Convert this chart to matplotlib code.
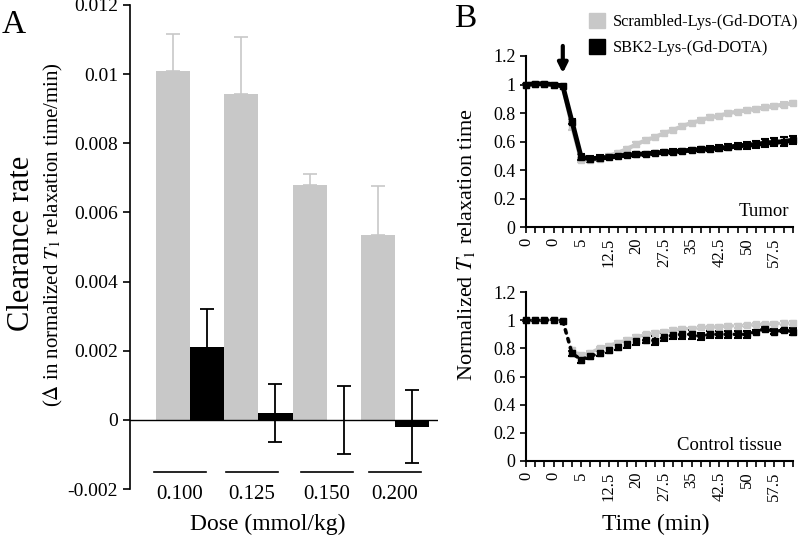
import numpy as np
import matplotlib
matplotlib.use("Agg")
import matplotlib.pyplot as plt
from matplotlib.patches import Patch

plt.rcParams['font.family'] = ['Liberation Serif', 'DejaVu Serif']
plt.rcParams['mathtext.fontset'] = 'stix'

GRAY = '#c8c8c8'

# Panel A: clearance rate per dose
doses = ['0.100', '0.125', '0.150', '0.200']
scr_rate = [0.0101, 0.00942, 0.0068, 0.00535]
scr_err = [0.00105, 0.00165, 0.0003, 0.0014]
sbk_rate = [0.0021, 0.0002, 0.0, -0.0002]
sbk_err = [0.0011, 0.00085, 0.00099, 0.00105]
dose_label_shift = [-0.15, -0.1, 0.0, 0.0]

# Panel B: normalized T1 relaxation time (categorical time axis)
time_labels = ['0', '0', '5', '12.5', '20', '27.5', '35', '42.5', '50', '57.5']

tumor_scr = [1.0, 1.005, 1.005, 1.0, 0.99, 0.71, 0.47, 0.47, 0.48, 0.50,
             0.52, 0.55, 0.58, 0.61, 0.63, 0.66, 0.68, 0.71, 0.73, 0.75,
             0.77, 0.78, 0.80, 0.81, 0.82, 0.83, 0.84, 0.85, 0.86, 0.87]
tumor_scr_err = [0.005] * 5 + [0.03] + [0.015] * 24
tumor_sbk = [1.0, 1.005, 1.005, 1.0, 0.99, 0.74, 0.49, 0.48, 0.485, 0.49,
             0.50, 0.505, 0.51, 0.515, 0.52, 0.525, 0.53, 0.535, 0.54, 0.545,
             0.55, 0.555, 0.56, 0.57, 0.575, 0.58, 0.59, 0.595, 0.60, 0.61]
tumor_sbk_err = [0.005] * 5 + [0.02, 0.02, 0.02, 0.02, 0.015, 0.015, 0.015,
                               0.015, 0.015, 0.015, 0.015, 0.015, 0.015, 0.015,
                               0.018, 0.018, 0.02, 0.02, 0.022, 0.025, 0.025,
                               0.028, 0.028, 0.03, 0.03]

ctrl_scr = [1.0, 1.0, 1.0, 1.005, 0.995, 0.79, 0.75, 0.77, 0.80, 0.82,
            0.84, 0.86, 0.88, 0.90, 0.91, 0.92, 0.93, 0.94, 0.94, 0.95,
            0.95, 0.955, 0.96, 0.96, 0.965, 0.97, 0.97, 0.975, 0.98, 0.98]
ctrl_scr_err = [0.005] * 5 + [0.012] * 25
ctrl_sbk = [1.0, 1.0, 1.0, 1.005, 0.995, 0.765, 0.72, 0.745, 0.765, 0.79,
            0.81, 0.83, 0.85, 0.86, 0.855, 0.88, 0.895, 0.90, 0.90, 0.885,
            0.90, 0.90, 0.90, 0.90, 0.90, 0.92, 0.94, 0.92, 0.93, 0.92]
ctrl_sbk_err = [0.005] * 5 + [0.02, 0.025, 0.02, 0.02, 0.02, 0.02, 0.025,
                              0.025, 0.025, 0.03, 0.03, 0.03, 0.03, 0.03,
                              0.025, 0.025, 0.025, 0.025, 0.025, 0.025, 0.01,
                              0.01, 0.02, 0.01, 0.025]
injection_index = 4

fig = plt.figure(figsize=(8, 5.41), dpi=100)

# ---------------- Panel A ----------------
axA = fig.add_axes([0.1625, 0.0961, 0.385, 0.8947])
x = np.arange(len(doses))
w = 0.5
axA.bar(x - w / 2, scr_rate, w, color=GRAY)
axA.errorbar(x - w / 2, scr_rate, yerr=[np.zeros(len(scr_err)), scr_err],
             fmt='none', ecolor=GRAY, elinewidth=1.2, capsize=5, capthick=1.2)
axA.bar(x + w / 2, sbk_rate, w, color='black')
axA.errorbar(x + w / 2, sbk_rate, yerr=sbk_err, fmt='none', ecolor='black',
             elinewidth=1.3, capsize=5, capthick=1.3)
axA.axhline(0, color='black', lw=1)
axA.set_xlim(-0.88, 3.63)
axA.set_ylim(-0.002, 0.012)
axA.set_yticks(np.arange(-0.002, 0.0121, 0.002))
axA.set_yticklabels(['-0.002', '0', '0.002', '0.004', '0.006', '0.008', '0.01', '0.012'])
axA.tick_params(axis='y', labelsize=14, length=5, width=1.2, direction='out')
axA.set_xticks([])
for s in ['top', 'right', 'bottom']:
    axA.spines[s].set_visible(False)
axA.spines['left'].set_linewidth(1.2)

tr = axA.get_xaxis_transform()
for i, lab in enumerate(doses):
    cx = x[i] + dose_label_shift[i]
    axA.plot([cx - 0.38, cx + 0.38], [0.035, 0.035], color='black', lw=1.2,
             transform=tr, clip_on=False)
    axA.text(cx, -0.012, lab, transform=tr, ha='center', va='center',
             fontsize=15)

fig.text(0.335, 0.03, 'Dose (mmol/kg)', ha='center', va='center', fontsize=17)
fig.text(0.027, 0.551, 'Clearance rate', rotation=90, ha='center',
         va='center', fontsize=22)
fig.text(0.067, 0.567, r'($\Delta$ in normalized $T_1$ relaxation time/min)',
         rotation=90, ha='center', va='center', fontsize=15)
fig.text(0.017, 0.955, 'A', ha='center', va='center', fontsize=24)

# ---------------- Panel B ----------------
def style_time_axis(ax, n):
    ax.set_xlim(0, n - 1)
    ax.set_ylim(0, 1.2)
    ax.set_yticks(np.arange(0, 1.21, 0.2))
    ax.set_yticklabels(['0', '0.2', '0.4', '0.6', '0.8', '1', '1.2'])
    ax.set_xticks(np.arange(0, 3 * len(time_labels), 3))
    ax.set_xticklabels(time_labels, rotation=90)
    ax.set_xticks(np.arange(n), minor=True)
    ax.tick_params(axis='y', labelsize=13, length=4, width=1.2)
    ax.tick_params(axis='x', which='both', labelsize=12, length=4, width=1.2)
    for s in ['top', 'right']:
        ax.spines[s].set_visible(False)
    for s in ['left', 'bottom']:
        ax.spines[s].set_linewidth(1.5)


axT = fig.add_axes([0.6575, 0.580, 0.3335, 0.3165])
t = np.arange(len(tumor_sbk))
axT.errorbar(t, tumor_scr, yerr=tumor_scr_err, color=GRAY, lw=3, marker='s',
             ms=4, capsize=3, elinewidth=1.5, capthick=1.5, clip_on=False)
axT.errorbar(t, tumor_sbk, yerr=tumor_sbk_err, color='black', lw=3.5, marker='s',
             ms=4, capsize=3, elinewidth=1.5, capthick=1.5, clip_on=False)
style_time_axis(axT, len(tumor_sbk))
axT.annotate('', xy=(injection_index, 1.06), xytext=(injection_index, 1.29),
             arrowprops=dict(arrowstyle='-|>', lw=3, color='black',
                             mutation_scale=14),
             annotation_clip=False)
axT.text(0.985, 0.04, 'Tumor', transform=axT.transAxes, ha='right',
         va='bottom', fontsize=13.5)

axC = fig.add_axes([0.6575, 0.148, 0.3335, 0.312])
axC.errorbar(t, ctrl_scr, yerr=ctrl_scr_err, color=GRAY, lw=2.5, ls=':',
             marker='s', ms=4, capsize=3, elinewidth=1.5, capthick=1.5,
             clip_on=False, dash_capstyle='round')
axC.errorbar(t, ctrl_sbk, yerr=ctrl_sbk_err, color='black', lw=2.5, ls=':',
             marker='s', ms=4, capsize=3, elinewidth=1.5, capthick=1.5,
             clip_on=False, dash_capstyle='round')
style_time_axis(axC, len(ctrl_sbk))
axC.text(0.96, 0.04, 'Control tissue', transform=axC.transAxes, ha='right',
         va='bottom', fontsize=13.5)

fig.text(0.583, 0.547, r'Normalized $T_1$ relaxation time', rotation=90,
         ha='center', va='center', fontsize=16)
fig.text(0.82, 0.03, 'Time (min)', ha='center', va='center', fontsize=17)
fig.text(0.582, 0.965, 'B', ha='center', va='center', fontsize=24)

fig.legend(handles=[Patch(color=GRAY), Patch(color='black')],
           labels=['Scrambled-Lys-(Gd-DOTA)', 'SBK2-Lys-(Gd-DOTA)'],
           loc='upper left', bbox_to_anchor=(0.722, 0.997), frameon=False,
           fontsize=11.8, handlelength=1.0, handleheight=1.0,
           handletextpad=0.45, labelspacing=0.55, borderpad=0.2)

fig.savefig('out.png', dpi=100)
